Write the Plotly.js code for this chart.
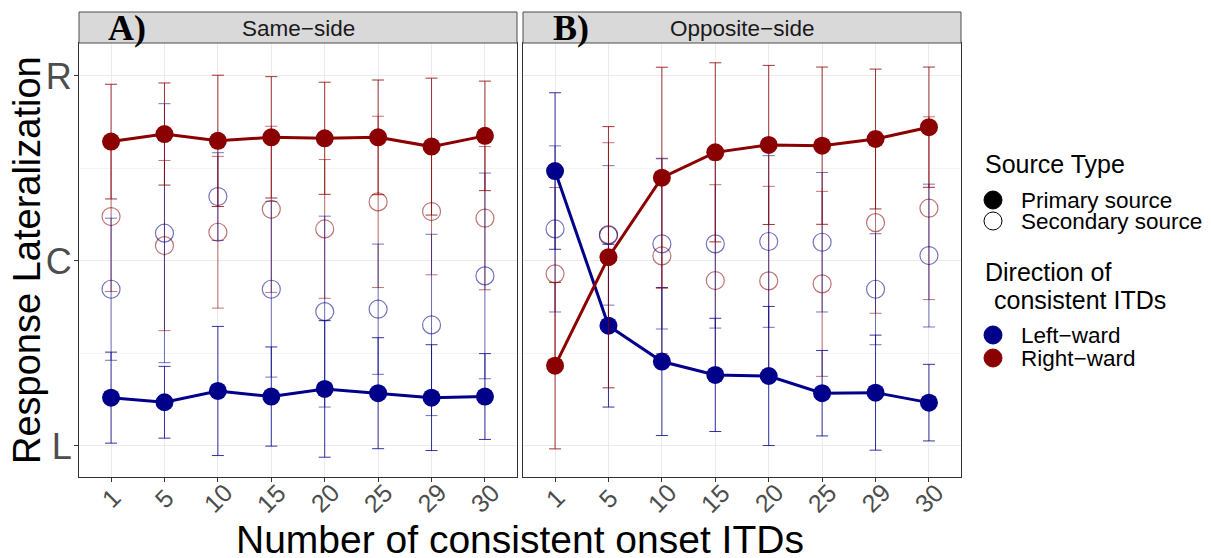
<!DOCTYPE html>
<html>
<head>
<meta charset="utf-8">
<script src="https://cdn.plot.ly/plotly-3.0.1.min.js"></script>
<style>html,body{margin:0;padding:0;background:#fff;}#chart{width:1211px;height:558px;}</style>
</head>
<body>
<div id="chart"></div>
<script>
// ---- data (y: L = -1, C = 0, R = 1) ----
const categories = ['1','5','10','15','20','25','29','30'];
const yTickVals = [-1, 0, 1];
const yTickText = ['L', 'C', 'R'];
const panelNames = ['Same\u2212side', 'Opposite\u2212side'];
const panelLetters = ['A)', 'B)'];

// Panel A: Same-side
const sameLeftPrimary      = [-0.739, -0.764, -0.703, -0.733, -0.692, -0.715, -0.739, -0.733];
const sameLeftPrimarySD    = [ 0.246,  0.194,  0.349,  0.268,  0.369,  0.300,  0.286,  0.232];
const sameRightPrimary     = [ 0.645,  0.686,  0.649,  0.668,  0.663,  0.668,  0.618,  0.676];
const sameRightPrimarySD   = [ 0.310,  0.276,  0.355,  0.328,  0.303,  0.310,  0.370,  0.296];
const sameLeftSecondary    = [-0.153,  0.150,  0.348, -0.153, -0.274, -0.261, -0.346, -0.081];
const sameLeftSecondarySD  = [ 0.384,  0.700,  0.237,  0.475,  0.516,  0.352,  0.490,  0.556];
const sameRightSecondary   = [ 0.240,  0.083,  0.155,  0.279,  0.173,  0.319,  0.267,  0.231];
const sameRightSecondarySD = [ 0.405,  0.460,  0.410,  0.449,  0.375,  0.463,  0.342,  0.387];

// Panel B: Opposite-side
const oppLeftPrimary       = [ 0.486, -0.350, -0.544, -0.616, -0.622, -0.715, -0.712, -0.766];
const oppLeftPrimarySD     = [ 0.423,  0.440,  0.400,  0.306,  0.376,  0.231,  0.311,  0.207];
const oppRightPrimary      = [-0.566,  0.020,  0.450,  0.587,  0.627,  0.623,  0.659,  0.723];
const oppRightPrimarySD    = [ 0.450,  0.706,  0.597,  0.484,  0.430,  0.425,  0.378,  0.325];
const oppLeftSecondary     = [ 0.173,  0.138,  0.092,  0.092,  0.105,  0.101, -0.153,  0.029];
const oppLeftSecondarySD   = [ 0.449,  0.377,  0.460,  0.455,  0.464,  0.377,  0.300,  0.386];
const oppRightSecondary    = [-0.070,  0.142,  0.027, -0.106, -0.108, -0.124,  0.207,  0.285];
const oppRightSecondarySD  = [ 0.467,  0.497,  0.528,  0.518,  0.511,  0.500,  0.490,  0.494];

// ---- styles ----
const BLUE = '#00008B', RED = '#8B0000';
const BLUE_A = 'rgba(0,0,139,0.55)', RED_A = 'rgba(139,0,0,0.55)';
const BLUE_E = 'rgba(0,0,139,0.8)', RED_E = 'rgba(139,0,0,0.8)';
const FONT = 'Liberation Sans, Arial, sans-serif';

function secondary(y, sd, colA, xa, ya) {
  return {x: categories, y: y, xaxis: xa, yaxis: ya, type: 'scatter', mode: 'markers',
    showlegend: false, hoverinfo: 'skip',
    marker: {symbol: 'circle-open', size: 18, color: colA, line: {width: 1.2, color: colA}},
    error_y: {type: 'data', array: sd, visible: true, color: colA, thickness: 1, width: 6}};
}
function primary(y, sd, col, colE, xa, ya) {
  return {x: categories, y: y, xaxis: xa, yaxis: ya, type: 'scatter', mode: 'lines+markers',
    showlegend: false, hoverinfo: 'skip',
    line: {color: col, width: 3},
    marker: {symbol: 'circle', size: 18, color: col},
    error_y: {type: 'data', array: sd, visible: true, color: colE, thickness: 1, width: 6}};
}

const traces = [
  secondary(sameRightSecondary, sameRightSecondarySD, RED_A, 'x', 'y'),
  secondary(sameLeftSecondary, sameLeftSecondarySD, BLUE_A, 'x', 'y'),
  primary(sameLeftPrimary, sameLeftPrimarySD, BLUE, BLUE_E, 'x', 'y'),
  primary(sameRightPrimary, sameRightPrimarySD, RED, RED_E, 'x', 'y'),
  secondary(oppRightSecondary, oppRightSecondarySD, RED_A, 'x2', 'y2'),
  secondary(oppLeftSecondary, oppLeftSecondarySD, BLUE_A, 'x2', 'y2'),
  primary(oppLeftPrimary, oppLeftPrimarySD, BLUE, BLUE_E, 'x2', 'y2'),
  primary(oppRightPrimary, oppRightPrimarySD, RED, RED_E, 'x2', 'y2')
];

const L = 79, R = 961, T = 43, B = 477, W = 1211, H = 558;
const pw = R - L, ph = B - T;
const px = v => (v - L) / pw;
const py = v => (B - v) / ph;
const dA = [0, px(517)], dB = [px(523), 1];

const xCommon = {type: 'category', range: [-0.6, 7.6], showticklabels: false,
  ticks: 'outside', ticklen: 4, tickcolor: '#333333',
  showgrid: true, gridcolor: '#EBEBEB', gridwidth: 1,
  showline: true, mirror: true, linecolor: '#333333', linewidth: 1, zeroline: false, fixedrange: true};
const yCommon = {range: [-1.168, 1.178], tickmode: 'array', tickvals: yTickVals, ticktext: yTickText,
  showgrid: true, gridcolor: '#EBEBEB', gridwidth: 1, zeroline: false,
  minor: {tickmode: 'array', tickvals: [-0.5, 0.5], showgrid: true, gridcolor: '#F4F4F4', gridwidth: 1, ticklen: 0},
  showline: true, mirror: true, linecolor: '#333333', linewidth: 1, fixedrange: true};

const annotations = [];
const shapes = [];
const panelDomains = [dA, dB];
['x', 'x2'].forEach((xa, i) => {
  categories.forEach((c, k) => annotations.push({xref: xa, yref: 'paper', x: k, y: py(498),
    text: c, textangle: -45, showarrow: false, xanchor: 'center', yanchor: 'middle',
    font: {family: FONT, size: 25, color: '#4D4D4D'}}));
  const d = panelDomains[i];
  shapes.push({type: 'rect', xref: 'paper', yref: 'paper', x0: d[0], x1: d[1], y0: 1, y1: py(12),
    fillcolor: '#D9D9D9', line: {color: '#4D4D4D', width: 1}, layer: 'above'});
  annotations.push({xref: 'paper', yref: 'paper', x: (d[0] + d[1]) / 2, y: py(28), text: panelNames[i],
    showarrow: false, xanchor: 'center', yanchor: 'middle', font: {family: FONT, size: 22.5, color: '#1A1A1A'}});
});
annotations.push({xref: 'paper', yref: 'paper', x: px(127), y: py(28), text: '<b>' + panelLetters[0] + '</b>',
  showarrow: false, xanchor: 'center', yanchor: 'middle', font: {family: 'Liberation Serif, Times New Roman, serif', size: 36, color: '#000'}});
annotations.push({xref: 'paper', yref: 'paper', x: px(571), y: py(28), text: '<b>' + panelLetters[1] + '</b>',
  showarrow: false, xanchor: 'center', yanchor: 'middle', font: {family: 'Liberation Serif, Times New Roman, serif', size: 36, color: '#000'}});

// axis titles
annotations.push({xref: 'paper', yref: 'paper', x: 0.5, y: py(539), text: 'Number of consistent onset ITDs',
  showarrow: false, xanchor: 'center', yanchor: 'middle', height: 34,
  font: {family: FONT, size: 39, color: '#000'}});
annotations.push({xref: 'paper', yref: 'paper', x: px(27), y: py(260), text: 'Response Lateralization', textangle: -90,
  showarrow: false, xanchor: 'center', yanchor: 'middle', font: {family: FONT, size: 38, color: '#000'}});

// legend
const legendTitles = [['Source Type', 983, 164], ['Direction of', 983, 272], ['consistent ITDs', 992, 300]];
legendTitles.forEach(t => annotations.push({xref: 'paper', yref: 'paper', x: px(t[1]), y: py(t[2]), text: t[0],
  showarrow: false, xanchor: 'left', yanchor: 'middle',
  font: {family: FONT, size: 25, color: '#000'}}));
const legendItems = [
  ['Primary source', 200, '#000000', '#000000'],
  ['Secondary source', 221, 'rgba(0,0,0,0)', '#000000'],
  ['Left\u2212ward', 335, BLUE, BLUE],
  ['Right\u2212ward', 358, RED, RED]
];
legendItems.forEach(it => {
  annotations.push({xref: 'paper', yref: 'paper', x: px(1019), y: py(it[1]), text: it[0],
    showarrow: false, xanchor: 'left', yanchor: 'middle',
    font: {family: FONT, size: 22.5, color: '#000'}});
  shapes.push({type: 'circle', xref: 'paper', yref: 'paper', xsizemode: 'pixel', ysizemode: 'pixel',
    xanchor: px(993), yanchor: py(it[1]), x0: -9, x1: 9, y0: -9, y1: 9,
    fillcolor: it[2], line: {color: it[3], width: 1}});
});

const layout = {
  width: W, height: H,
  margin: {l: L, r: W - R, t: T, b: H - B, pad: 0},
  paper_bgcolor: '#FFFFFF', plot_bgcolor: '#FFFFFF',
  showlegend: false,
  xaxis: Object.assign({}, xCommon, {domain: dA, anchor: 'y'}),
  xaxis2: Object.assign({}, xCommon, {domain: dB, anchor: 'y2'}),
  yaxis: Object.assign({}, yCommon, {anchor: 'x', ticks: 'outside', ticklen: 4, tickcolor: '#333333',
    ticklabelstandoff: -5, tickfont: {family: FONT, size: 36, color: '#4D4D4D'}}),
  yaxis2: Object.assign({}, yCommon, {anchor: 'x2', matches: 'y', showticklabels: false, ticks: ''}),
  annotations: annotations,
  shapes: shapes
};

Plotly.newPlot('chart', traces, layout, {displayModeBar: false, staticPlot: true});
</script>
</body>
</html>
